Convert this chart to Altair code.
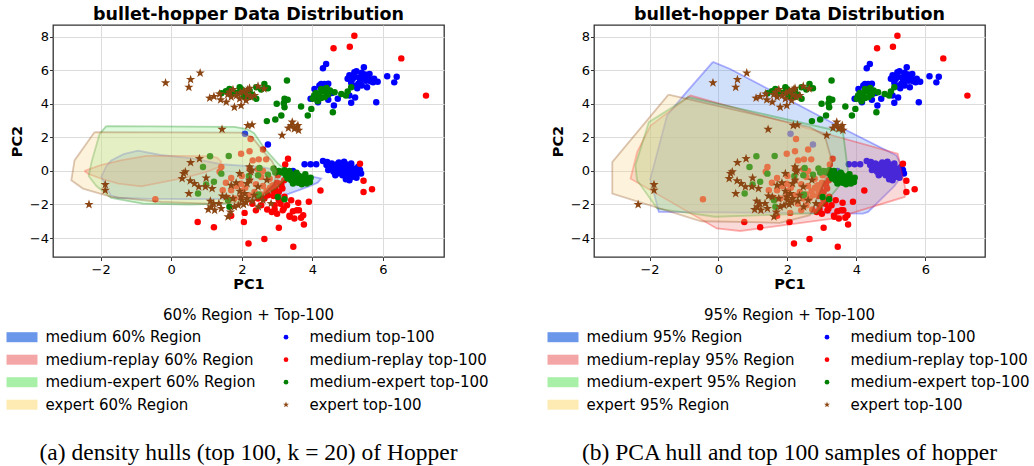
import altair as alt
import pandas as pd

# ---------------- data ----------------
SERIES = ["medium", "medium-replay", "medium-expert", "expert"]

medium_x = [4.39, 4.30, 5.19, 5.46, 5.62, 5.33, 5.14, 5.52, 5.72, 5.85, 5.27, 5.55, 6.12, 6.39, 6.32,
            5.81, 5.10, 5.21, 4.61, 4.72, 4.34, 4.20, 4.06, 4.16, 4.25, 4.45, 5.05, 5.25, 5.40, 5.10,
            5.30, 5.45, 5.60, 5.40, 5.75, 5.00, 5.20, 5.35, 5.50, 5.65, 5.15, 4.45, 4.55, 4.10, 3.95,
            5.05, 4.40,
            3.45, 3.78, 3.95, 4.11, 4.30, 4.42, 4.55, 4.62, 4.70, 4.78, 4.85, 4.90, 4.95, 5.00, 5.05,
            5.10, 5.15, 5.20, 5.25, 5.30, 5.35, 5.38, 4.60, 4.65, 4.70, 4.75, 4.80, 4.85, 4.90, 4.95,
            5.00, 5.05, 5.10, 5.15, 5.20, 4.55, 4.50, 4.45, 5.05, 4.95, 5.25, 4.65, 4.40, 5.30, 5.10,
            4.90, 4.75, 2.74, 2.09]
medium_y = [6.38, 6.12, 5.88, 6.18, 5.78, 5.58, 5.48, 5.38, 5.28, 5.32, 4.93, 4.99, 5.64, 5.62, 5.28,
            4.10, 4.06, 4.38, 3.90, 4.30, 5.19, 5.10, 4.89, 4.10, 5.19, 5.20, 5.70, 5.95, 5.85, 5.25,
            5.20, 5.55, 5.50, 5.10, 5.50, 5.50, 5.60, 5.35, 5.75, 5.35, 5.10, 4.25, 4.65, 4.45, 4.30,
            4.50, 5.05,
            0.00, 0.40, 0.40, 0.40, 0.59, 0.53, 0.45, 0.30, 0.40, 0.20, 0.35, 0.10, 0.40, 0.20, 0.05,
            0.30, 0.10, -0.05, 0.15, -0.10, 0.05, -0.15, -0.05, 0.10, -0.15, 0.00, -0.10, -0.25, -0.05, -0.20,
            -0.10, -0.30, -0.15, -0.35, -0.25, 0.10, 0.20, 0.05, -0.55, -0.50, -0.40, -0.25, 0.35, 0.25, 0.45,
            0.55, 0.50, 1.58, 2.22]

replay_x = [5.19, 4.60, 5.06, 6.52, 7.22, 5.35, 5.45, 5.45, 5.69, 4.23, 3.90, 3.74, 3.62, 3.49, 3.35,
            3.40, 3.16, 3.05, 3.46, 2.64, 2.19, 1.21, 0.75, 2.06, 2.08, 1.70, 2.72, 2.93, 2.64, 3.76,
            3.68, 3.56, 3.36, 3.21, 3.19, 2.93, 3.31, 3.23, 3.10, 3.00, 2.85, 3.28, 3.45, 2.40, 2.30,
            3.60, 3.05, 2.55,
            -0.45, 1.98, 2.22, 2.60, 2.25, 2.31, 2.48, 2.69, 1.42, 1.37, 1.70, 1.98, 1.46, 1.70, 2.46,
            2.22, 2.22, 2.55, 2.79, 2.88, 3.12, 2.74, 2.36, 1.98, 1.79, 2.46, 3.31, 3.02, 3.11, 2.95,
            3.05, 2.90, 3.15, 2.80, 2.70, 2.60, 2.00, 1.85, 2.10, 2.40, 2.60, 3.20, 1.60, 2.20, 2.90,
            2.00, 2.55, 3.00, 1.55]
replay_y = [8.06, 7.31, 7.41, 6.71, 4.49, 0.43, -0.58, -1.25, -1.09, -1.17, -1.84, -2.64, -2.34, -2.83, -2.67,
            -1.75, -2.34, -3.39, -4.52, -4.06, -4.32, -3.35, -3.05, -3.05, -2.50, -2.67, -2.30, -2.04, -1.65, -3.19,
            -2.79, -2.34, -2.73, -1.54, -2.24, -2.28, 0.73, 0.39, -1.95, -2.55, -2.45, -2.05, -2.40, -2.35, -1.95,
            -1.90, -1.75, -2.05,
            -1.69, 1.03, 1.17, 1.28, 1.90, 0.63, 0.69, 0.69, 0.24, -0.05, -0.42, -0.76, -1.15, -1.15, 0.10,
            0.14, -0.55, -0.36, -0.46, -0.85, -0.85, -1.45, -1.25, -1.54, -1.64, -1.64, -0.36, -0.26, -0.76, -1.05,
            -1.25, -1.20, -1.05, -1.00, -1.20, 0.00, -1.20, -0.90, -1.00, -0.80, -0.90, -0.55, -1.60, -1.45, -1.50,
            -0.30, -1.40, -0.70, -0.70]

mexp_x = [1.42, 1.65, 1.70, 1.94, 1.96, 2.10, 2.22, 2.41, 2.64, 2.74, 2.41, 2.20, 2.05, 1.85, 2.30,
          1.55, 2.55, 2.00, 3.28, 3.21, 3.30, 3.19, 2.99, 3.21, 3.68, 3.12, 2.95, 2.71, 3.87, 3.97,
          4.15, 4.25, 4.39, 4.58, 4.63, 4.82, 5.00, 5.10, 4.01, 4.10, 4.30, 4.20, 4.45, 4.35, 4.05,
          4.50, 4.25, 4.15, 4.40, 4.95,
          3.21, 3.30, 3.40, 3.50, 3.60, 3.70, 3.80, 3.90, 3.93, 3.84, 3.45, 3.55, 3.65, 3.75, 3.35,
          3.25, 3.15, 3.60, 3.70, 3.50, 3.40, 3.80, 3.30, 3.05, 3.95, 3.55, 3.65, 3.45, 3.35, 3.75,
          2.48, 3.02, 3.21, 1.65, 3.10,
          1.10, 1.63, 0.90, 0.99, 1.21, 0.76, 1.42, 2.50, 2.46, 2.74, 2.95, 2.46, 1.61, 2.20, 2.90]
mexp_y = [4.63, 4.89, 4.59, 4.99, 4.73, 4.60, 4.79, 4.99, 5.19, 4.93, 4.30, 4.40, 4.45, 4.65, 4.55,
          4.75, 4.85, 4.85, 5.39, 4.30, 4.25, 4.04, 4.00, 3.80, 3.84, 3.31, 3.07, 2.97, 3.31, 3.70,
          4.50, 4.89, 4.69, 3.50, 4.69, 4.59, 4.73, 4.99, 4.30, 4.65, 4.75, 4.60, 4.55, 4.40, 4.50,
          4.80, 4.35, 4.15, 4.95, 4.50,
          0.04, -0.10, -0.20, -0.30, -0.25, -0.35, -0.40, -0.55, -0.66, -0.75, -0.45, -0.50, -0.55, -0.60, -0.35,
          -0.25, -0.10, -0.70, -0.80, -0.65, -0.55, -0.20, -0.45, 0.00, -0.40, -0.10, -0.45, -0.75, 0.00, -0.45,
          -1.41, -1.55, -1.69, -2.14, -0.05,
          0.87, 0.89, 0.24, -0.81, -0.65, -1.35, -0.16, 0.18, -0.26, -0.22, -0.10, -1.45, -1.75, -0.30, 0.15]

expert_x = [-0.16, 0.50, 0.55, 0.82, 1.09, 1.21, 1.37, 1.40, 1.56, 1.65, 1.70, 1.79, 1.98, 1.96, 2.15,
            2.17, 2.36, 2.46, 2.63, 1.94, 2.12, 2.22, 1.60, 1.85, 2.05, 2.25, 1.75, 2.17, 2.29, 1.44,
            3.14, 3.43, 3.49, 3.61, 3.59, 3.32, 3.40, 3.55,
            -2.33, -1.87, -1.87, 0.55, 0.80, 0.35, 0.31, 0.40, 0.54, 0.66, 0.50, 0.78, 0.99, 0.97, 1.16,
            1.11, 1.20, 1.13, 1.23, 1.42, 1.35, 1.56, 1.61, 1.68, 1.75, 1.79, 1.90, 1.98, 1.94, 1.84,
            1.94, 2.08, 2.15, 2.22, 2.22, 2.28, 2.46, 2.47, 2.71, 2.30, 2.12, 2.00, 2.15, 1.70, 1.45,
            2.35, 2.05, 2.60, 2.83, 1.05, 2.25]
expert_y = [5.25, 4.99, 5.45, 5.84, 4.34, 4.44, 4.59, 4.24, 4.10, 4.69, 4.40, 3.80, 3.90, 4.65, 4.53,
            4.85, 4.50, 5.05, 4.89, 4.30, 4.20, 4.93, 4.55, 4.50, 4.75, 4.40, 4.85, 2.71, 2.75, 2.48,
            2.12, 2.91, 2.51, 2.42, 2.71, 2.55, 2.70, 2.60,
            -2.00, -0.81, -1.15, 0.50, 0.73, -0.16, -0.46, -0.05, -0.59, -0.75, -1.35, -0.95, -0.42, -0.95, -1.05,
            -1.80, -1.95, -2.14, -2.34, -2.24, -1.95, -1.54, -2.73, -2.45, -1.64, -2.14, -2.05, -1.54, -1.21, -0.71,
            -0.16, -1.35, -1.65, -0.55, 0.24, 0.05, -0.95, -2.14, -0.55, -1.80, -1.88, -1.75, -0.75, -0.85, -1.50,
            -1.45, -2.00, -1.75, -1.95, -2.30, -0.05]

# 60% density hulls (left panel)
h60_medium_x = [-0.94, -0.30, 0.60, 1.42, 2.55, 3.21, 3.90, 4.25, 4.15, 3.87, 3.21, 2.50, 1.79, 0.50, -0.50, -1.51, -1.72, -1.98, -1.85, -1.70, -1.35]
h60_medium_y = [1.21, 0.95, 0.75, 0.40, 0.24, -0.06, -0.30, -0.45, -0.70, -0.95, -1.45, -1.62, -1.66, -1.68, -1.66, -1.60, -1.45, -0.36, 0.25, 0.63, 1.00]
h60_replay_x = [-2.46, -2.00, -1.40, -0.70, 0.30, 1.00, 1.30, 1.42, 1.32, 1.00, 0.40, -0.20, -0.85, -1.50, -2.00, -2.35]
h60_replay_y = [0.00, 0.35, 0.65, 0.90, 0.90, 0.88, 0.80, 0.55, 0.20, -0.05, -0.40, -0.65, -0.92, -0.75, -0.45, -0.18]
h60_mexp_x = [-1.84, 1.79, 2.15, 2.35, 2.64, 3.02, 3.30, 3.25, 3.00, 2.50, 1.50, 0.50, -0.80, -1.70, -2.12, -2.34, -2.25, -2.03]
h60_mexp_y = [2.67, 2.63, 2.50, 2.25, 1.35, 0.45, -0.05, -0.45, -1.00, -1.65, -1.95, -2.00, -1.95, -1.60, -0.90, -0.30, 0.60, 2.20]
h60_expert_x = [-2.17, 1.98, 2.30, 2.60, 2.85, 3.00, 2.90, 2.50, 2.00, 1.00, -0.28, -1.70, -2.50, -2.83, -2.74]
h60_expert_y = [2.32, 2.28, 2.00, 1.20, 0.60, 0.00, -0.80, -1.60, -1.90, -1.95, -1.85, -1.55, -1.05, -0.56, 0.63]

# 95% PCA hulls (right panel)
h95_medium_x = [-0.16, 0.34, 3.81, 5.16, 5.40, 5.10, 4.34, 4.19, -1.73, -1.98, -1.49, -1.01]
h95_medium_y = [6.50, 6.08, 2.32, 0.93, -0.06, -0.90, -2.44, -2.54, -2.44, -0.50, 3.31, 4.50]
h95_replay_x = [-0.82, 5.20, 5.44, 5.40, 3.37, 0.63, -0.05, -2.55, -2.36, -1.97]
h95_replay_y = [4.50, 1.03, -1.25, -1.55, -2.83, -3.58, -3.43, -0.46, 1.13, 2.71]
h95_mexp_x = [-0.87, 3.61, 3.76, 3.52, 2.84, -0.10, -1.78, -2.36, -2.41, -2.02]
h95_mexp_y = [4.40, 2.32, -0.06, -0.85, -2.53, -2.73, -2.24, -0.55, 0.34, 2.91]
h95_expert_x = [-1.45, 2.65, 3.08, 3.30, 2.65, 1.78, 1.00, -0.50, -3.08, -3.08]
h95_expert_y = [4.55, 2.61, 2.12, 0.50, -2.64, -3.09, -3.05, -3.00, -1.35, 0.53]

X_TICKS = [-2, 0, 2, 4, 6]
Y_TICKS = [-4, -2, 0, 2, 4, 6, 8]

POINT_COLORS = ["#0000FF", "#FF0000", "#008000", "#8B4513"]
FILL_COLORS = ["#6495ED", "#F08080", "#90EE90", "#F8D78A"]
SWATCH_COLORS = ["#6A97E9", "#F4A6A6", "#A8F0A8", "#FDEBB3"]

STAR = ("M0,-1L0.2351,-0.3236L0.9511,-0.309L0.3804,0.1236L0.5878,0.809L0,0.4"
        "L-0.5878,0.809L-0.3804,0.1236L-0.9511,-0.309L-0.2351,-0.3236Z")
RECT = "M-1.55,-0.5L1.55,-0.5L1.55,0.5L-1.55,0.5Z"

POINTS = [(medium_x, medium_y), (replay_x, replay_y), (mexp_x, mexp_y), (expert_x, expert_y)]
HULLS60 = [(h60_medium_x, h60_medium_y), (h60_replay_x, h60_replay_y),
           (h60_mexp_x, h60_mexp_y), (h60_expert_x, h60_expert_y)]
HULLS95 = [(h95_medium_x, h95_medium_y), (h95_replay_x, h95_replay_y),
           (h95_mexp_x, h95_mexp_y), (h95_expert_x, h95_expert_y)]

FONT = "DejaVu Sans"
W, H = 391, 232
LEG_Y0, LEG_DY = 312.2, 22.5


def hull_df(xs, ys):
    xs = list(xs) + [xs[0]]
    ys = list(ys) + [ys[0]]
    return pd.DataFrame({"x": xs, "y": ys, "o": list(range(len(xs)))})


def panel(hulls, xdom, pct, caption):
    xenc = alt.X("x:Q", scale=alt.Scale(domain=xdom, nice=False, zero=False),
                 axis=alt.Axis(values=X_TICKS, title="PC1", labelPadding=2.5, titlePadding=1))
    yenc = alt.Y("y:Q", scale=alt.Scale(domain=[-5.13, 8.70], nice=False, zero=False),
                 axis=alt.Axis(values=Y_TICKS, title="PC2", labelPadding=1, titlePadding=5))
    layers = []
    for i in range(4):
        hx, hy = hulls[i]
        layers.append(
            alt.Chart(hull_df(hx, hy)).mark_line(
                fill=FILL_COLORS[i], fillOpacity=0.3, stroke=POINT_COLORS[i],
                strokeOpacity=0.3, strokeWidth=1.8
            ).encode(x=xenc, y=yenc, order="o:Q")
        )
        px, py = POINTS[i]
        dfp = pd.DataFrame({"x": px, "y": py})
        if i < 3:
            mk = alt.Chart(dfp).mark_circle(size=42, color=POINT_COLORS[i], opacity=1)
        else:
            mk = alt.Chart(dfp).mark_point(shape=STAR, filled=True, size=95,
                                           color=POINT_COLORS[i], opacity=1, strokeWidth=0)
        layers.append(mk.encode(x=xenc, y=yenc))
    plot = alt.layer(*layers)

    # legend (drawn below the plot)
    reg_labels = [f"{s} {pct} Region" for s in SERIES]
    pt_labels = [f"{s} top-100" for s in SERIES]
    leg = pd.DataFrame({
        "row": [0, 1, 2, 3, 0, 1, 2, 3],
        "col": [0, 0, 0, 0, 1, 1, 1, 1],
        "label": reg_labels + pt_labels,
        "key": SERIES + SERIES,
    })
    lx = alt.X("col:Q", scale=alt.Scale(domain=[0, 1], range=[-31, 233]), axis=None)
    ly = alt.Y("row:Q", scale=alt.Scale(domain=[0, 3], range=[LEG_Y0, LEG_Y0 + 3 * LEG_DY]), axis=None)
    sw = alt.Chart(leg[leg.col == 0]).mark_point(shape=RECT, filled=True, size=400, opacity=1,
                                                 strokeWidth=0).encode(
        x=lx, y=ly,
        color=alt.Color("key:N", scale=alt.Scale(domain=SERIES, range=SWATCH_COLORS), legend=None))
    dots = alt.Chart(leg[(leg.col == 1) & (leg.row < 3)]).mark_circle(size=22, opacity=1).encode(
        x=lx, y=ly,
        color=alt.Color("key:N", scale=alt.Scale(domain=SERIES, range=POINT_COLORS), legend=None))
    star = alt.Chart(leg[(leg.col == 1) & (leg.row == 3)]).mark_point(
        shape=STAR, filled=True, size=40, opacity=1, strokeWidth=0, color=POINT_COLORS[3]).encode(x=lx, y=ly)
    txt = alt.Chart(leg).mark_text(align="left", baseline="middle", dx=23.5, fontSize=15,
                                   font=FONT, color="black").encode(x=lx, y=ly, text="label:N")
    ttl = alt.Chart(pd.DataFrame({"t": [f"{pct} Region + Top-100"]})).mark_text(
        align="center", baseline="middle", fontSize=15, font=FONT, color="black").encode(
        text="t:N", x=alt.value(W / 2), y=alt.value(LEG_Y0 - LEG_DY))
    cap = alt.Chart(pd.DataFrame({"t": [caption]})).mark_text(
        align="center", baseline="middle", fontSize=23.5, font="Liberation Serif", color="black").encode(
        text="t:N", x=alt.value(W / 2), y=alt.value(427.5))
    legend = alt.layer(sw, dots, star, txt, ttl, cap).resolve_scale(color="independent")

    return alt.layer(plot, legend).resolve_scale(
        x="independent", y="independent", color="independent"
    ).properties(
        width=W, height=H,
        title=alt.Title("bullet-hopper Data Distribution", fontSize=17.5, font=FONT,
                        fontWeight="bold", anchor="middle", frame="group", offset=1.5, color="black"),
    )


left = panel(HULLS60, [-3.35, 7.73], "60%", "(a) density hulls (top 100, k = 20) of Hopper")
right = panel(HULLS95, [-3.61, 7.73], "95%", "(b) PCA hull and top 100 samples of hopper")

chart = alt.hconcat(left, right, spacing=56).properties(
    padding={"left": 5, "top": 5, "right": 0, "bottom": 0}
).configure_view(
    stroke="#333333", strokeWidth=1.3
).configure_axis(
    labelFont=FONT, labelFontSize=13, labelColor="black",
    titleFont=FONT, titleFontSize=14.5, titleFontWeight="bold", titleColor="black",
    tickSize=3.5, tickColor="#333333", gridColor="#dcdcdc", gridWidth=1, domain=False,
)

chart.save("out.html", embed_options={"renderer": "svg", "actions": False})
